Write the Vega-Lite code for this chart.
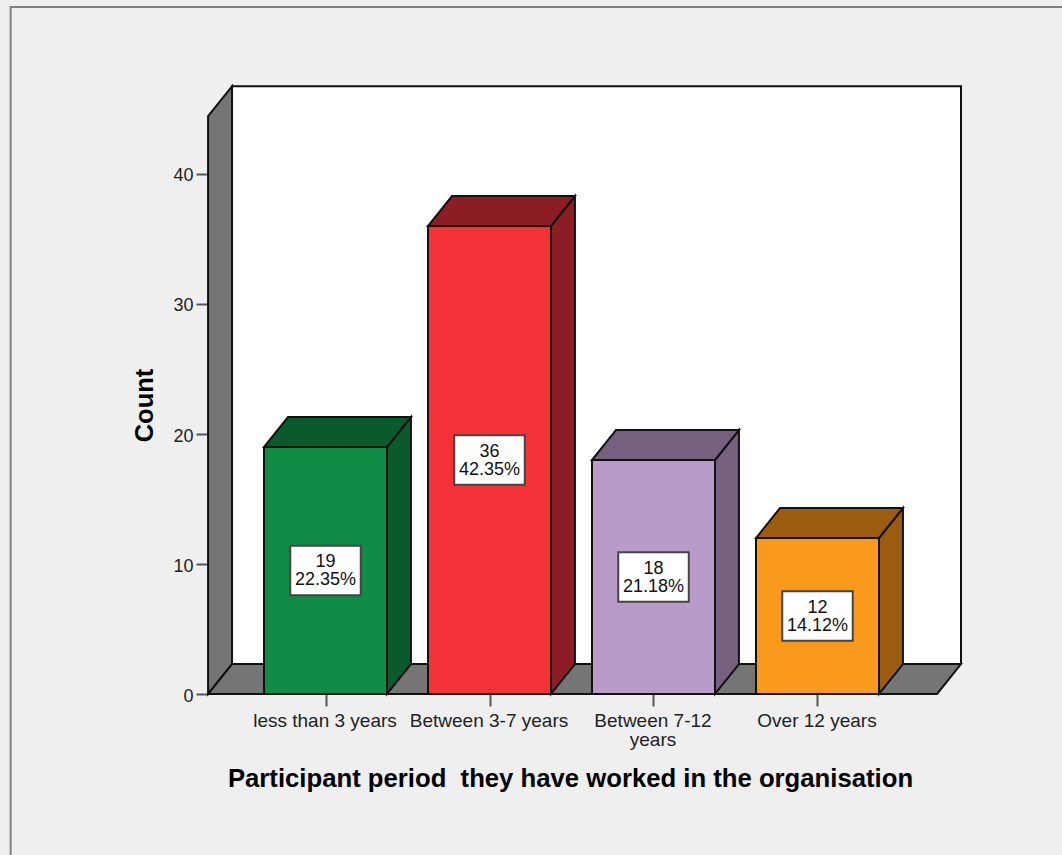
{
  "$schema": "https://vega.github.io/schema/vega-lite/v6.json",
  "width": 1062,
  "height": 855,
  "padding": 0,
  "autosize": "none",
  "background": "#efefef",
  "config": {"view": {"stroke": null}, "font": "Liberation Sans"},
  "params": [
    {"name": "halfBar", "value": 0.375},
    {"name": "depthX", "value": 0.146},
    {"name": "depthY", "value": 2.3},
    {"name": "wallLeft", "value": -0.716},
    {"name": "wallRight", "value": 3.729},
    {"name": "wallTop", "value": 44.45}
  ],
  "data": {
    "values": [
      {"period": "less than 3 years", "order": 0, "count": 19, "percent": "22.35%"},
      {"period": "Between 3-7 years", "order": 1, "count": 36, "percent": "42.35%"},
      {"period": "Between 7-12 years", "order": 2, "count": 18, "percent": "21.18%"},
      {"period": "Over 12 years", "order": 3, "count": 12, "percent": "14.12%"}
    ]
  },
  "encoding": {
    "x": {
      "field": "x",
      "type": "quantitative",
      "scale": {"domain": [-1.9848, 4.4909], "nice": false, "zero": false},
      "axis": {
        "orient": "bottom",
        "offset": -161,
        "values": [0, 1, 2, 3],
        "domain": false,
        "grid": false,
        "tickSize": 12,
        "tickWidth": 2,
        "tickColor": "#555555",
        "labelExpr": "['less than 3 years', 'Between 3-7 years', ['Between 7-12', 'years'], 'Over 12 years'][datum.value]",
        "labelFontSize": 19,
        "labelColor": "#222222",
        "labelPadding": 5,
        "labelOffset": -1,
        "labelLineHeight": 19,
        "labelOverlap": false,
        "labelFlush": false,
        "labelBound": false,
        "title": "Participant period \u00a0they have worked in the organisation",
        "titleFontSize": 25.7,
        "titleFontWeight": "bold",
        "titleColor": "#000000",
        "titleX": 570,
        "titleY": 92,
        "titleAlign": "center",
        "titleBaseline": "alphabetic"
      }
    },
    "y": {
      "field": "y",
      "type": "quantitative",
      "scale": {"domain": [-12.3846, 53.3846], "nice": false, "zero": false},
      "axis": {
        "orient": "left",
        "offset": -208,
        "values": [0, 10, 20, 30, 40],
        "domain": false,
        "grid": false,
        "tickSize": 12,
        "tickWidth": 2,
        "tickColor": "#555555",
        "labelFontSize": 18,
        "labelColor": "#222222",
        "labelPadding": 3,
        "labelOffset": 2,
        "title": "Count",
        "titleFontSize": 25.5,
        "titleFontWeight": "bold",
        "titleColor": "#000000",
        "titleX": -56,
        "titleY": 405,
        "titleAngle": -90,
        "titleAlign": "center",
        "titleBaseline": "alphabetic"
      }
    }
  },
  "layer": [
    {
      "data": {"values": [{"part": "frame"}]},
      "transform": [
        {"calculate": "-1.92", "as": "x"},
        {"calculate": "5", "as": "x2"},
        {"calculate": "52.85", "as": "y"},
        {"calculate": "-14", "as": "y2"}
      ],
      "mark": {"type": "rect", "fill": "transparent", "stroke": "#808080", "strokeWidth": 2, "clip": true},
      "encoding": {"x2": {"field": "x2"}, "y2": {"field": "y2"}}
    },
    {
      "data": {"values": [{"part": "back wall"}]},
      "transform": [
        {"calculate": "wallLeft + depthX", "as": "x"},
        {"calculate": "wallRight + depthX", "as": "x2"},
        {"calculate": "wallTop + depthY", "as": "y"},
        {"calculate": "depthY", "as": "y2"}
      ],
      "mark": {"type": "rect", "fill": "#ffffff", "stroke": "#111111", "strokeWidth": 2},
      "encoding": {"x2": {"field": "x2"}, "y2": {"field": "y2"}}
    },
    {
      "data": {"values": [{"edge": 0}, {"edge": 1}]},
      "transform": [
        {"calculate": "wallLeft + datum.edge * depthX", "as": "x"},
        {"calculate": "wallTop + datum.edge * depthY", "as": "y"},
        {"calculate": "datum.edge * depthY", "as": "y2"}
      ],
      "mark": {"type": "area", "fill": "#757575", "stroke": "#111111", "strokeWidth": 2},
      "encoding": {"y2": {"field": "y2"}}
    },
    {
      "data": {"values": [{"edge": 0}, {"edge": 1}]},
      "transform": [
        {"calculate": "wallLeft + datum.edge * depthX", "as": "x"},
        {"calculate": "wallRight + datum.edge * depthX", "as": "x2"},
        {"calculate": "datum.edge * depthY", "as": "y"}
      ],
      "mark": {"type": "area", "orient": "horizontal", "fill": "#757575", "stroke": "#111111", "strokeWidth": 2},
      "encoding": {"x2": {"field": "x2"}}
    },
    {
      "transform": [
        {"calculate": "[0, 1]", "as": "edge"},
        {"flatten": ["edge"]},
        {"calculate": "datum.order + halfBar + datum.edge * depthX", "as": "x"},
        {"calculate": "datum.count + datum.edge * depthY", "as": "y"},
        {"calculate": "datum.edge * depthY", "as": "y2"}
      ],
      "mark": {"type": "area", "stroke": "#111111", "strokeWidth": 2},
      "encoding": {
        "y2": {"field": "y2"},
        "fill": {
          "field": "period",
          "type": "nominal",
          "legend": null,
          "scale": {
            "domain": ["less than 3 years", "Between 3-7 years", "Between 7-12 years", "Over 12 years"],
            "range": ["#0a5a2d", "#8c1d24", "#766080", "#9b5c10"]
          }
        }
      }
    },
    {
      "transform": [
        {"calculate": "[0, 1]", "as": "edge"},
        {"flatten": ["edge"]},
        {"calculate": "datum.order - halfBar + datum.edge * depthX", "as": "x"},
        {"calculate": "datum.order + halfBar + datum.edge * depthX", "as": "x2"},
        {"calculate": "datum.count + datum.edge * depthY", "as": "y"}
      ],
      "mark": {"type": "area", "orient": "horizontal", "stroke": "#111111", "strokeWidth": 2},
      "encoding": {
        "x2": {"field": "x2"},
        "fill": {
          "field": "period",
          "type": "nominal",
          "legend": null,
          "scale": {
            "domain": ["less than 3 years", "Between 3-7 years", "Between 7-12 years", "Over 12 years"],
            "range": ["#0a5a2d", "#8c1d24", "#766080", "#9b5c10"]
          }
        }
      }
    },
    {
      "transform": [
        {"calculate": "datum.order - halfBar", "as": "x"},
        {"calculate": "datum.order + halfBar", "as": "x2"},
        {"calculate": "datum.count", "as": "y"},
        {"calculate": "0", "as": "y2"}
      ],
      "mark": {"type": "rect", "stroke": "#111111", "strokeWidth": 2},
      "encoding": {
        "x2": {"field": "x2"},
        "y2": {"field": "y2"},
        "fill": {
          "field": "period",
          "type": "nominal",
          "legend": null,
          "scale": {
            "domain": ["less than 3 years", "Between 3-7 years", "Between 7-12 years", "Over 12 years"],
            "range": ["#108c47", "#f33338", "#b89bc9", "#fa9a1d"]
          }
        }
      }
    },
    {
      "transform": [
        {"calculate": "datum.order - 0.215", "as": "x"},
        {"calculate": "datum.order + 0.215", "as": "x2"},
        {"calculate": "datum.count / 2 + 1.9", "as": "y"},
        {"calculate": "datum.count / 2 - 1.9", "as": "y2"}
      ],
      "mark": {"type": "rect", "fill": "#ffffff", "stroke": "#444444", "strokeWidth": 2},
      "encoding": {"x2": {"field": "x2"}, "y2": {"field": "y2"}}
    },
    {
      "transform": [
        {"calculate": "datum.order", "as": "x"},
        {"calculate": "datum.count / 2", "as": "y"},
        {"calculate": "datum.count + '\\n' + datum.percent", "as": "label"}
      ],
      "mark": {"type": "text", "fontSize": 18, "lineHeight": 18, "lineBreak": "\n", "align": "center", "baseline": "middle", "dy": -8.5, "color": "#111111"},
      "encoding": {"text": {"field": "label"}}
    }
  ],
  "resolve": {"scale": {"fill": "independent"}}
}
